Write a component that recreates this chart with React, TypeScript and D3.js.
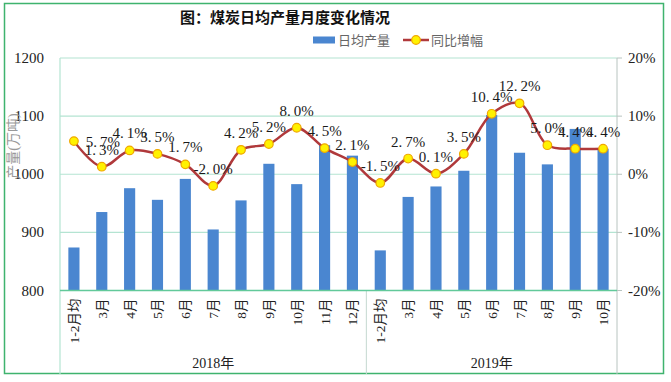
import React from "react";
import * as d3 from "d3";

const years = ["2018年", "2019年"];
const months2018 = ["1-2月均", "3月", "4月", "5月", "6月", "7月", "8月", "9月", "10月", "11月", "12月"];
const months2019 = ["1-2月均", "3月", "4月", "5月", "6月", "7月", "8月", "9月", "10月"];
const output2018 = [874, 935, 976, 956, 992, 905, 955, 1018, 983, 1050, 1032];
const output2019 = [869, 961, 979, 1006, 1102, 1037, 1017, 1078, 1044];
const growth2018 = [5.7, 1.3, 4.1, 3.5, 1.7, -2.0, 4.2, 5.2, 8.0, 4.5, 2.1];
const growth2019 = [-1.5, 2.7, 0.1, 3.5, 10.4, 12.2, 5.0, 4.4, 4.4];
const leftTicks = [800, 900, 1000, 1100, 1200];
const rightTicks = [-20, -10, 0, 10, 20];

const W = 671;
const H = 382;
const M = { left: 60, right: 617, top: 58, bottom: 290.5, catBottom: 374 };

const BAR = "#4A86D0";
const LINE = "#B0393B";
const GRID = "#B4E4D2";
const AXISG = "#62C99A";
const BORDER = "#3FB36E";
const SERIF = "'Liberation Serif', 'Times New Roman', 'Noto Sans CJK SC', serif";
const CJK = "'Noto Sans CJK SC', sans-serif";

type Row = { key: string; label: string; year: number; output: number; growth: number };

const rows: Row[] = [
  ...months2018.map((m, i) => ({ key: `0-${m}`, label: m, year: 0, output: output2018[i], growth: growth2018[i] })),
  ...months2019.map((m, i) => ({ key: `1-${m}`, label: m, year: 1, output: output2019[i], growth: growth2019[i] })),
];

function PctLabel({ v, x, y }: { v: number; x: number; y: number }) {
  const s = v.toFixed(1);
  const [a, b] = s.split(".");
  return (
    <text x={x} y={y} textAnchor="middle" fontFamily={SERIF} fontSize={15} fill="#1a1a1a">
      <tspan>{a}.</tspan>
      <tspan dx={3}>{b}%</tspan>
    </text>
  );
}

export default function App() {
  const x = d3.scaleBand<string>().domain(rows.map((r) => r.key)).range([M.left, M.right]).padding(0);
  const yL = d3.scaleLinear().domain([800, 1200]).range([M.bottom, M.top]);
  const yR = d3.scaleLinear().domain([-20, 20]).range([M.bottom, M.top]);
  const bw = x.bandwidth() * 0.4;
  const cx = (r: Row) => (x(r.key) as number) + x.bandwidth() / 2;

  const line = d3
    .line<Row>()
    .x((r) => cx(r))
    .y((r) => yR(r.growth))
    .curve(d3.curveCatmullRom.alpha(0.5));

  const sepX = x(rows[months2018.length].key) as number;
  const yearSpans = [
    [M.left, sepX],
    [sepX, M.right],
  ];

  return (
    <div style={{ position: "absolute", left: 0, top: 0 }}>
      <svg width={W} height={H} style={{ display: "block", background: "#fff" }}>
        <rect x={4.5} y={3.5} width={659} height={370} fill="#fff" stroke={BORDER} strokeWidth={1.5} />
        <text x={285} y={23} textAnchor="middle" fontFamily={CJK} fontSize={15} fontWeight="bold" fill="#111">
          图：煤炭日均产量月度变化情况
        </text>

        {/* legend */}
        <rect x={313} y={36.5} width={22} height={7} fill={BAR} />
        <text x={338} y={44.5} fontFamily={CJK} fontSize={13} fill="#666">日均产量</text>
        <line x1={403} x2={429} y1={40} y2={40} stroke={LINE} strokeWidth={2.5} />
        <circle cx={416} cy={40} r={4.3} fill="#FFF200" stroke="#F0A800" strokeWidth={1.2} />
        <text x={431} y={44.5} fontFamily={CJK} fontSize={13} fill="#666">同比增幅</text>

        {/* gridlines */}
        {leftTicks.slice(1).map((t) => (
          <line key={t} x1={M.left} x2={M.right} y1={yL(t)} y2={yL(t)} stroke={GRID} strokeWidth={1.2} />
        ))}
        <line x1={M.left} x2={M.left} y1={M.top} y2={M.catBottom} stroke={GRID} strokeWidth={1.2} />
        <line x1={M.right} x2={M.right} y1={M.top} y2={M.catBottom} stroke="#B8C4C0" strokeWidth={1} />
        <line x1={sepX} x2={sepX} y1={M.bottom} y2={M.catBottom} stroke="#C4D8D0" strokeWidth={1} />

        {/* left axis labels */}
        {leftTicks.map((t) => (
          <text key={t} x={44} y={yL(t) + 5} textAnchor="end" fontFamily={SERIF} fontSize={15} fill="#222">
            {t}
          </text>
        ))}
        <text
          transform="translate(18,146) rotate(-90)"
          textAnchor="middle"
          fontFamily={SERIF}
          fontSize={14}
          fill="#999"
        >
          产量(万吨)
        </text>

        {/* right axis */}
        {rightTicks.map((t) => (
          <g key={t}>
            <line x1={M.right} x2={M.right + 5} y1={yR(t)} y2={yR(t)} stroke="#B8C4C0" />
            <text x={628} y={yR(t) + 5} fontFamily={SERIF} fontSize={15} fill="#222">
              {t}%
            </text>
          </g>
        ))}

        {/* bars */}
        {rows.map((r) => (
          <rect key={r.key} x={cx(r) - bw / 2} y={yL(r.output)} width={bw} height={yL(800) - yL(r.output)} fill={BAR} />
        ))}

        <line x1={M.left} x2={M.right} y1={M.bottom} y2={M.bottom} stroke={AXISG} strokeWidth={1.5} />

        {/* x labels */}
        {rows.map((r) => (
          <text
            key={r.key}
            transform={`translate(${cx(r) + 5},${M.bottom + 8}) rotate(-90)`}
            textAnchor="end"
            fontFamily={SERIF}
            fontSize={13.5}
            fill="#222"
          >
            {r.label}
          </text>
        ))}
        {years.map((yname, i) => (
          <text
            key={yname}
            x={(yearSpans[i][0] + yearSpans[i][1]) / 2}
            y={368}
            textAnchor="middle"
            fontFamily={SERIF}
            fontSize={14}
            fill="#222"
          >
            {yname}
          </text>
        ))}

        {/* line */}
        <path d={line(rows) || ""} fill="none" stroke={LINE} strokeWidth={2.5} />
        {rows.map((r) => (
          <circle key={r.key} cx={cx(r)} cy={yR(r.growth)} r={4.3} fill="#FFF200" stroke="#F0A800" strokeWidth={1.2} />
        ))}
        {rows.map((r, i) => (
          <PctLabel
            key={r.key}
            v={r.growth}
            x={i === 0 ? cx(r) + 29 : cx(r)}
            y={i === 0 ? yR(r.growth) + 6 : yR(r.growth) - 12}
          />
        ))}
      </svg>
    </div>
  );
}
